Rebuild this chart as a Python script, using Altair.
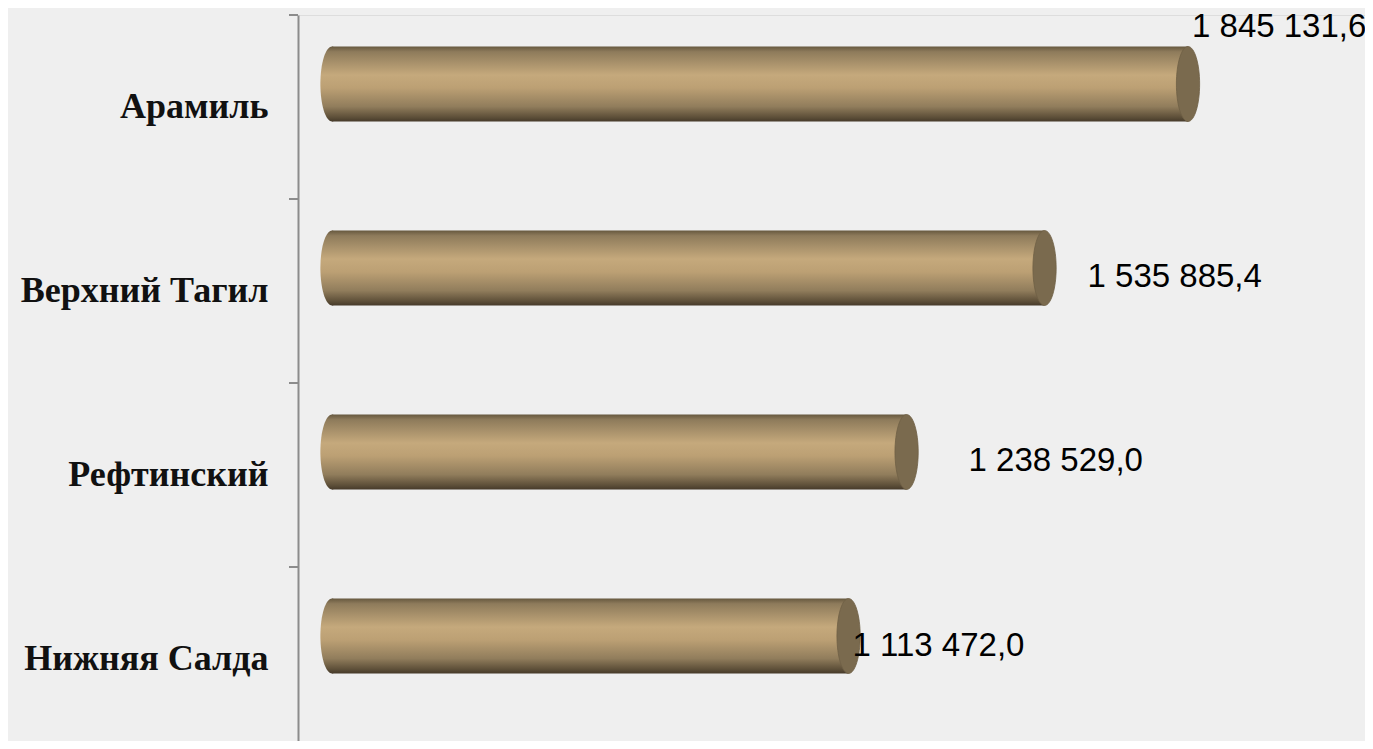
import altair as alt
import pandas as pd

categories = ["Арамиль", "Верхний Тагил", "Рефтинский", "Нижняя Салда"]
values = [1845131.6, 1535885.4, 1238529.0, 1113472.0]

# label placement (style only): dx, dy in pixels relative to bar end
label_offsets = {
    "Арамиль": (4, -57),
    "Верхний Тагил": (43, 9),
    "Рефтинский": (62, 9),
    "Нижняя Салда": (4, 10),
}

df = pd.DataFrame({"cat": categories, "v": values})

W, H = 1067, 726
BAR = 75
YOFF = -23

y_scale = alt.Scale(domain=categories, range=[0, 736], paddingInner=0, paddingOuter=0)
x_scale = alt.Scale(domain=[-73287, 2226629], nice=False, zero=False)

grad = alt.LinearGradient(
    gradient="linear", x1=0, x2=0, y1=0, y2=1,
    stops=[
        alt.GradientStop(offset=0.0, color="#66583f"),
        alt.GradientStop(offset=0.07, color="#8e7b5b"),
        alt.GradientStop(offset=0.38, color="#c5a97c"),
        alt.GradientStop(offset=0.55, color="#bca074"),
        alt.GradientStop(offset=0.8, color="#917d5c"),
        alt.GradientStop(offset=0.95, color="#5b4d37"),
        alt.GradientStop(offset=1.0, color="#463a2a"),
    ],
)

ELLIPSE = "M0,-1 A0.31,1 0 1,1 0,1 A0.31,1 0 1,1 0,-1 Z"

base = alt.Chart(df)

y_axis = alt.Axis(
    title=None, ticks=False, domain=True, domainColor="#8c8c8c", domainWidth=2,
    labelFont="Liberation Serif", labelFontWeight="bold", labelFontSize=36,
    labelColor="#111111", labelPadding=30, labelLimit=400, grid=False,
)

ticks = base.mark_rule(color="#8c8c8c", strokeWidth=2).encode(
    y=alt.Y("cat:N", sort=categories, scale=y_scale, axis=y_axis, bandPosition=0),
    x=alt.value(-9), x2=alt.value(0),
)

bars = base.mark_bar(size=BAR, yOffset=YOFF, fill=grad).encode(
    y=alt.Y("cat:N", sort=categories, scale=y_scale, axis=y_axis),
    x=alt.X("v:Q", scale=x_scale, axis=None),
)

left_end = base.transform_calculate(zero="0").mark_point(
    shape=ELLIPSE, size=BAR * BAR, filled=True, fill=grad, opacity=1, strokeWidth=0, yOffset=YOFF
).encode(
    y=alt.Y("cat:N", sort=categories, scale=y_scale, axis=y_axis),
    x=alt.X("zero:Q", scale=x_scale, axis=None),
)

cap = base.mark_point(
    shape=ELLIPSE, size=BAR * BAR, filled=True, fill="#7a6a4e", opacity=1,
    stroke="#6e5f45", strokeWidth=0.8, yOffset=YOFF
).encode(
    y=alt.Y("cat:N", sort=categories, scale=y_scale, axis=y_axis),
    x=alt.X("v:Q", scale=x_scale, axis=None),
)

texts = []
for c in categories:
    dx, dy = label_offsets[c]
    t = base.transform_filter(alt.datum.cat == c).mark_text(
        align="left", baseline="middle", dx=dx, dy=dy, yOffset=YOFF,
        font="Liberation Sans", fontSize=33, color="#000000",
    ).encode(
        y=alt.Y("cat:N", sort=categories, scale=y_scale, axis=y_axis),
        x=alt.X("v:Q", scale=x_scale, axis=None),
        text=alt.Text("v:Q", format=",.1f"),
    )
    texts.append(t)

chart = alt.layer(ticks, bars, left_end, cap, *texts).properties(
    width=W, height=H,
    autosize=alt.AutoSizeParams(type="none"),
    padding={"left": 290, "top": 7, "right": 0, "bottom": 0},
    background="#efefef",
).configure_view(stroke=None).configure(
    locale={"number": {"decimal": ",", "thousands": " ", "grouping": [3], "currency": ["", ""]}}
)

chart.save("out.html", embed_options={"renderer": "svg", "actions": False})
